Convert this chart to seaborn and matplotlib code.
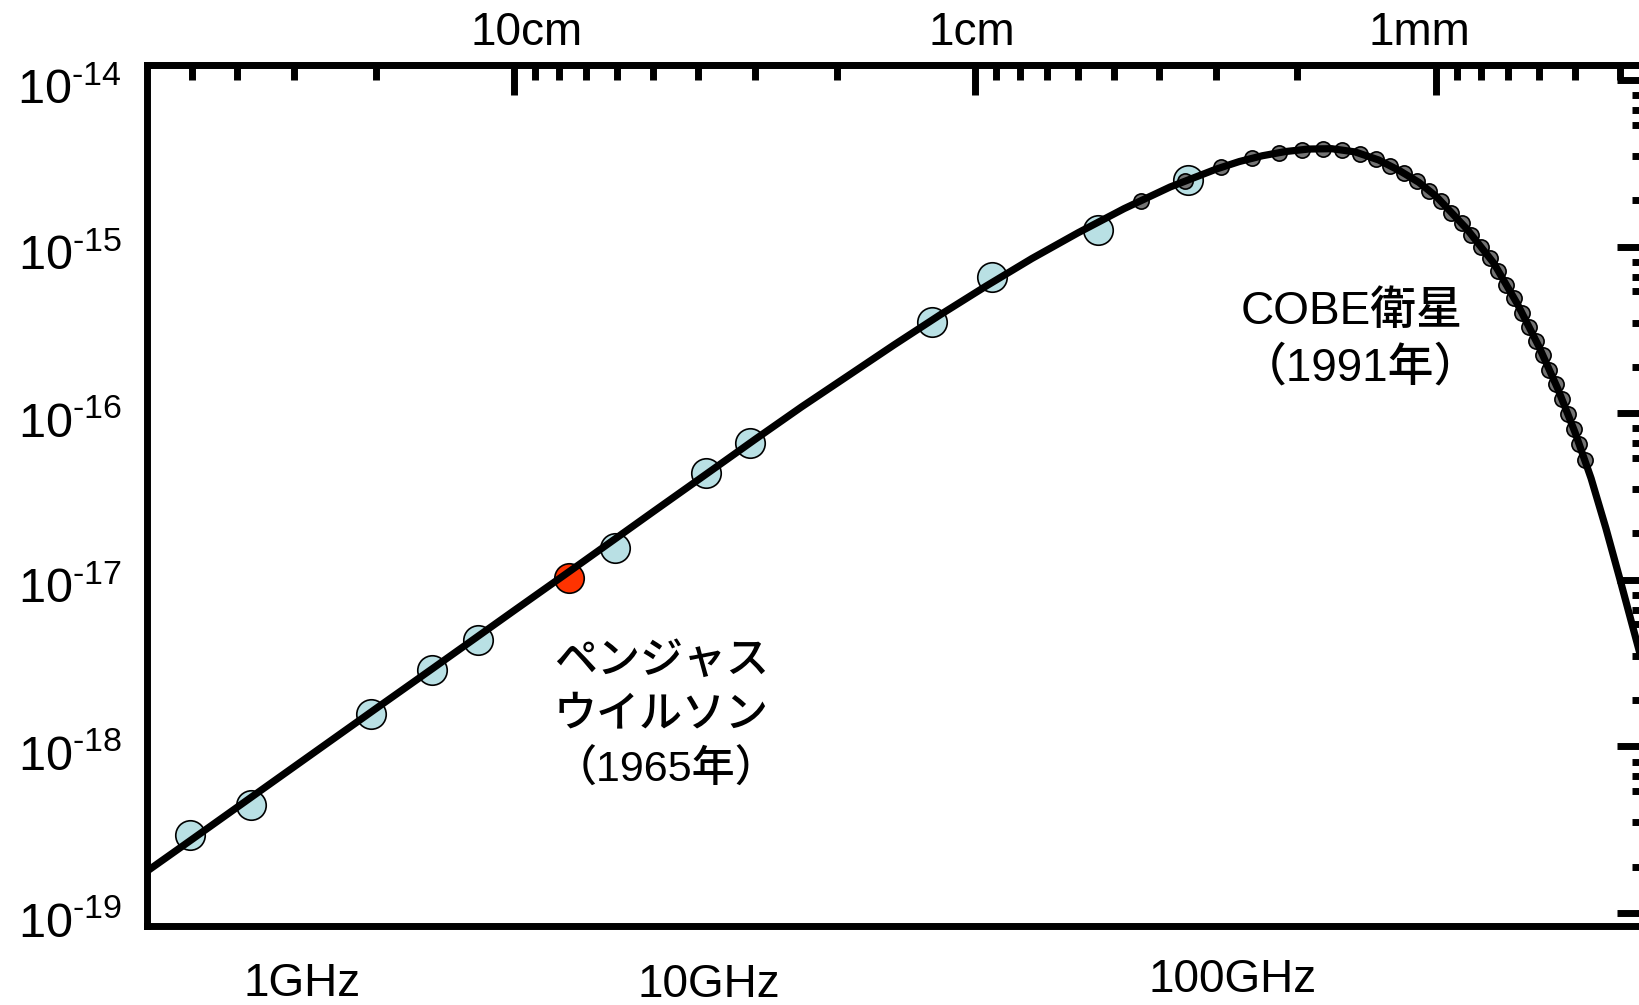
import numpy as np
import pandas as pd
import seaborn as sns
import matplotlib.pyplot as plt
import matplotlib.transforms as mtransforms
from matplotlib.ticker import FixedLocator, NullFormatter

# Planck curve (frequency in GHz, intensity erg/s/cm2/sr/Hz)
curve_ghz = [0.48, 0.6, 0.8, 1.0, 1.5, 2.0, 3.0, 4.0, 6.0, 8.0,
             10.0, 12.59, 15.85, 19.95, 25.12, 31.62, 39.81, 50.12, 63.10, 79.43,
             100.0, 112.2, 125.9, 141.3, 158.5, 177.8, 200.0, 225.0, 250.0, 275.0,
             300.0, 350.0, 400.0, 450.0, 500.0, 550.0, 600.0, 650.0, 700.0, 750.0,
             800.0, 850.0]
curve_val = [1.79e-19, 2.77e-19, 4.88e-19, 7.57e-19, 1.68e-18, 2.95e-18, 6.55e-18, 1.15e-17, 2.56e-17, 4.50e-17,
             6.98e-17, 1.09e-16, 1.67e-16, 2.56e-16, 3.88e-16, 5.78e-16, 8.48e-16, 1.21e-15, 1.69e-15, 2.28e-15,
             2.92e-15, 3.24e-15, 3.51e-15, 3.72e-15, 3.85e-15, 3.87e-15, 3.70e-15, 3.31e-15, 2.85e-15, 2.43e-15,
             2.00e-15, 1.27e-15, 7.94e-16, 4.52e-16, 2.54e-16, 1.41e-16, 7.67e-17, 4.07e-17, 2.04e-17, 1.02e-17,
             5.25e-18, 2.82e-18]

# ground based measurements (light blue)
ground_ghz = [0.594, 0.806, 1.467, 1.99, 2.50, 4.96, 7.82, 9.74, 24.2, 32.6, 55.4, 86.8]
ground_val = [2.94e-19, 4.45e-19, 1.56e-18, 2.88e-18, 4.35e-18, 1.55e-17, 4.38e-17,
              6.62e-17, 3.53e-16, 6.57e-16, 1.257e-15, 2.51e-15]

# Penzias & Wilson (red)
penzias_ghz = [3.94]
penzias_val = [1.03e-17]

# COBE (grey)
cobe_ghz = [68.5, 85.5, 102.5, 119.5, 136.5, 153.5, 170.5, 187.5, 204.5, 221.5,
            238.5, 255.5, 272.5, 289.5, 306.5, 323.5, 340.5, 357.5, 374.5, 391.5,
            408.5, 425.5, 442.5, 459.5, 476.5, 493.5, 510.5, 527.5, 544.5, 561.5,
            578.5, 595.5, 612.5, 629.5]
cobe_val = [1.88e-15, 2.47e-15, 2.99e-15, 3.38e-15, 3.65e-15, 3.81e-15, 3.86e-15, 3.79e-15, 3.62e-15, 3.36e-15,
            3.05e-15, 2.75e-15, 2.47e-15, 2.16e-15, 1.87e-15, 1.60e-15, 1.38e-15, 1.18e-15, 1.00e-15, 8.57e-16,
            7.18e-16, 5.90e-16, 4.90e-16, 4.02e-16, 3.30e-16, 2.72e-16, 2.24e-16, 1.82e-16, 1.50e-16, 1.21e-16,
            9.86e-17, 8.04e-17, 6.50e-17, 5.24e-17]

x_major = [1, 10, 100]
x_labels = ['1GHz', '10GHz', '100GHz']
wl_major = [100, 10, 1]          # mm
wl_labels = ['10cm', '1cm', '1mm']
y_major = [1e-19, 1e-18, 1e-17, 1e-16, 1e-15, 1e-14]
y_labels = ['$10^{‐19}$', '$10^{‐18}$', '$10^{‐17}$', '$10^{‐16}$', '$10^{‐15}$', '$10^{‐14}$']

sns.set_theme(style="white")
plt.rcParams['font.family'] = ['Liberation Sans', 'Noto Sans CJK JP', 'DejaVu Sans']
plt.rcParams['mathtext.fontset'] = 'custom'
plt.rcParams['mathtext.rm'] = 'Liberation Sans'
plt.rcParams['mathtext.it'] = 'Liberation Sans:italic'
plt.rcParams['mathtext.bf'] = 'Liberation Sans:bold'
plt.rcParams['text.color'] = 'black'

fig = plt.figure(figsize=(16.39, 10.05), dpi=100)
ax = fig.add_axes([147 / 1639, 1 - 926 / 1005, (1645 - 147) / 1639, (926 - 65) / 1005])
ax.set_xscale('log')
ax.set_yscale('log')

curve_df = pd.DataFrame({'ghz': curve_ghz, 'val': curve_val})

sns.scatterplot(x=ground_ghz, y=ground_val, s=450, color='#b9e0e4', edgecolor='black',
                linewidth=1.2, zorder=2, ax=ax)
sns.scatterplot(x=cobe_ghz, y=cobe_val, s=120, color='#747474', edgecolor='black',
                linewidth=1.2, zorder=3, ax=ax)
sns.scatterplot(x=penzias_ghz, y=penzias_val, s=450, color='#ff3300', edgecolor='black',
                linewidth=1.2, zorder=3, ax=ax)
sns.lineplot(data=curve_df, x='ghz', y='val', color='black', linewidth=5.2, zorder=4, ax=ax)

ax.set_xlim(0.479, 851)
ax.set_ylim(8.36e-20, 1.23e-14)
ax.set_xlabel('')
ax.set_ylabel('')

for sp in ax.spines.values():
    sp.set_linewidth(5)
    sp.set_color('black')

ax.set_xticks(x_major, labels=x_labels)
ax.xaxis.set_minor_locator(FixedLocator([m * 10 ** n for n in (0, 1, 2)
                                         for m in (2, 3, 4, 5, 6.4, 7.5, 8.6)]))
ax.xaxis.set_minor_formatter(NullFormatter())
ax.set_yticks(y_major, labels=y_labels)
ax.yaxis.set_minor_locator(FixedLocator([m * 10.0 ** n for n in range(-20, -14)
                                         for m in (1.9, 3.5, 5.4, 6.6, 8.1)]))
ax.yaxis.set_minor_formatter(NullFormatter())

ax.tick_params(which='both', direction='in', width=5, color='black', top=False,
               right=True, labelcolor='black')
ax.tick_params(which='major', length=20)
ax.tick_params(which='minor', length=9.5)
ax.tick_params(axis='x', labelsize=33, pad=26)
ax.tick_params(axis='y', labelsize=35, pad=18)


def to_mm(f):
    with np.errstate(divide='ignore'):
        return 300.0 / np.asarray(f, dtype=float)


sec = ax.secondary_xaxis('top', functions=(to_mm, to_mm))
sec.set_xticks(wl_major, labels=wl_labels)
sec.xaxis.set_minor_locator(FixedLocator([m * 10.0 ** n for n in (-1, 0, 1, 2)
                                          for m in range(2, 10)
                                          if 0.36 < m * 10.0 ** n < 550]))
sec.xaxis.set_minor_formatter(NullFormatter())
sec.tick_params(which='both', direction='in', width=5, color='black', labelsize=33,
                pad=7, labelcolor='black')
sec.tick_params(which='major', length=21.5)
sec.tick_params(which='minor', length=10.8)
sec.spines['top'].set_linewidth(5)

jp_font = ['Liberation Sans', 'Noto Sans CJK JP', 'DejaVu Sans']
ax.text(0.2717, 0.2439, "ペンジャス\nウイルソン\n（1965年）", transform=ax.transAxes,
        fontsize=31, family=jp_font, weight='medium', color='black', va='center',
        ha='left', linespacing=1.44)
ax.text(0.7303, 0.6806, "COBE衛星\n（1991年）", transform=ax.transAxes,
        fontsize=33, family=jp_font, weight='medium', color='black', va='center',
        ha='left', linespacing=1.36)

fig.canvas.draw()
bottom_shift = {'1GHz': (8, 0), '10GHz': (-47, -1), '100GHz': (16, 4)}
for lab in ax.xaxis.get_majorticklabels():
    dx, dy = bottom_shift.get(lab.get_text(), (0, 0))
    lab.set_transform(lab.get_transform() +
                      mtransforms.ScaledTranslation(dx / 100, dy / 100, fig.dpi_scale_trans))
top_shift = {'10cm': (12, 0), '1cm': (-3, 0), '1mm': (-17, 0)}
for lab in sec.xaxis.get_majorticklabels():
    dx, dy = top_shift.get(lab.get_text(), (0, 0))
    lab.set_transform(lab.get_transform() +
                      mtransforms.ScaledTranslation(dx / 100, dy / 100, fig.dpi_scale_trans))
for lab in ax.yaxis.get_majorticklabels():
    lab.set_transform(lab.get_transform() +
                      mtransforms.ScaledTranslation(0, -6 / 100, fig.dpi_scale_trans))

fig.savefig('out.png', dpi=100)
